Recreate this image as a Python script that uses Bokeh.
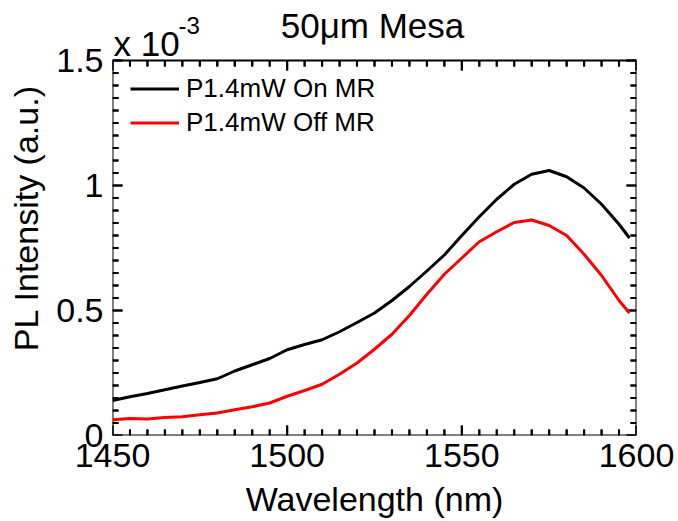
import math
from bokeh.plotting import figure
from bokeh.models import (Range1d, FixedTicker, NumeralTickFormatter, Legend, LegendItem)
from bokeh.core.properties import value
from bokeh.embed import file_html
from bokeh.resources import INLINE

# ---- data (PL intensity in units of 1e-3 a.u.) ----
wavelength = [1450, 1455, 1460, 1465, 1470, 1475, 1480, 1485, 1490, 1495, 1500,
              1505, 1510, 1515, 1520, 1525, 1530, 1535, 1540, 1545, 1550,
              1555, 1560, 1565, 1570, 1575, 1580, 1585, 1590, 1595, 1598]
on_mr = [0.140, 0.155, 0.168, 0.183, 0.198, 0.212, 0.227, 0.258, 0.283, 0.308, 0.343,
         0.364, 0.383, 0.415, 0.452, 0.490, 0.540, 0.596, 0.658, 0.722, 0.800,
         0.875, 0.945, 1.005, 1.045, 1.060, 1.035, 0.990, 0.925, 0.845, 0.790]
off_mr = [0.063, 0.068, 0.066, 0.072, 0.075, 0.083, 0.090, 0.103, 0.115, 0.130, 0.157,
          0.180, 0.205, 0.245, 0.290, 0.345, 0.405, 0.480, 0.565, 0.645, 0.710,
          0.775, 0.815, 0.852, 0.862, 0.840, 0.800, 0.725, 0.640, 0.540, 0.490]
series_labels = ["P1.4mW On MR", "P1.4mW Off MR"]
series_colors = ["#000000", "#ff0000"]
title_text = "50\u03bcm Mesa"
exp_base = "x 10"
exp_power = "-3"
x_label = "Wavelength (nm)"
y_label = "PL Intensity (a.u.)"
x_ticks = [1450, 1500, 1550, 1600]
y_ticks = [0, 0.5, 1, 1.5]

FONT = "Liberation Sans"
X0, X1 = x_ticks[0], x_ticks[-1]
Y0, Y1 = y_ticks[0], y_ticks[-1]

# layout constants (pixels)
W, H = 678, 521
LEFT, RIGHT, BOTTOM = 112, 42, 86
FRAME_H = H - BOTTOM              # frame runs up to the canvas top
BOX_TOP_PX = 60                   # axes box top, from canvas top
px_per_unit = (FRAME_H - BOX_TOP_PX) / (Y1 - Y0)
Y_TOP = Y0 + FRAME_H / px_per_unit
px_per_nm = (W - LEFT - RIGHT) / (X1 - X0)
MAJOR_LEN, MINOR_LEN = 10, 6
TICK_W = 2


def y_at(px_from_top):
    return Y0 + (FRAME_H - px_from_top) / px_per_unit


def x_at(px_from_left):
    return X0 + (px_from_left - LEFT) / px_per_nm


p = figure(width=W, height=H, output_backend="svg", toolbar_location=None,
           title=None, x_range=Range1d(X0, X1), y_range=Range1d(Y0, Y_TOP),
           min_border_left=LEFT, min_border_right=RIGHT, min_border_top=0,
           min_border_bottom=BOTTOM)
p.xgrid.visible = False
p.ygrid.visible = False
p.outline_line_color = None
p.background_fill_color = "white"
p.border_fill_color = "white"

for ax in (p.xaxis[0], p.yaxis[0]):
    ax.axis_line_color = None
    ax.major_tick_line_color = None
    ax.minor_tick_line_color = None
    ax.major_tick_in = 0
    ax.major_tick_out = 0
    ax.minor_tick_in = 0
    ax.minor_tick_out = 0
    ax.major_label_text_font = FONT
    ax.major_label_text_font_size = "34px"
    ax.major_label_text_color = "black"
    ax.axis_label_text_font = FONT
    ax.axis_label_text_font_size = "34px"
    ax.axis_label_text_font_style = "normal"
    ax.axis_label_text_color = "black"

xa = p.xaxis[0]
xa.ticker = FixedTicker(ticks=x_ticks)
xa.axis_label = x_label
xa.major_label_standoff = 8
xa.axis_label_standoff = 10

ya = p.yaxis[0]
ya.ticker = FixedTicker(ticks=y_ticks)
ya.formatter = NumeralTickFormatter(format="0.[0]")
ya.axis_label = y_label
ya.major_label_standoff = 9
ya.axis_label_standoff = 8

# axes box
p.quad(left=X0, right=X1, bottom=Y0, top=Y1, fill_alpha=0, line_color="black", line_width=2)

# inward tick marks: major at each tick, 10 minor intervals between
x_minor = []
for a, b in zip(x_ticks[:-1], x_ticks[1:]):
    x_minor += [a + (b - a) * k / 10 for k in range(1, 10)]
y_minor = []
for a, b in zip(y_ticks[:-1], y_ticks[1:]):
    y_minor += [a + (b - a) * k / 10 for k in range(1, 10)]

# drawn as small filled rectangles sized in screen pixels, plus matching segments
for xs, ln in ((x_ticks, MAJOR_LEN), (x_minor, MINOR_LEN)):
    n = len(xs)
    dy = ln / px_per_unit
    for y_edge, sign in ((Y0, 1), (Y1, -1)):
        p.rect(x=xs, y=[y_edge + sign * dy / 2] * n, width=TICK_W, height=ln,
               width_units="screen", height_units="screen",
               fill_color="black", line_color=None)
        p.segment(x0=xs, y0=[y_edge] * n, x1=xs, y1=[y_edge + sign * dy] * n,
                  line_color="black", line_width=TICK_W)
for ys, ln in ((y_ticks, MAJOR_LEN), (y_minor, MINOR_LEN)):
    n = len(ys)
    dx = ln / px_per_nm
    for x_edge, sign in ((X0, 1), (X1, -1)):
        p.rect(x=[x_edge + sign * dx / 2] * n, y=ys, width=ln, height=TICK_W,
               width_units="screen", height_units="screen",
               fill_color="black", line_color=None)
        p.segment(x0=[x_edge] * n, y0=ys, x1=[x_edge + sign * dx] * n, y1=ys,
                  line_color="black", line_width=TICK_W)

r1 = p.line(wavelength, on_mr, line_color=series_colors[0], line_width=3)
r2 = p.line(wavelength, off_mr, line_color=series_colors[1], line_width=3)

legend = Legend(items=[LegendItem(label=series_labels[0], renderers=[r1]),
                       LegendItem(label=series_labels[1], renderers=[r2])],
                location=(18, 297), glyph_width=49, glyph_height=31, label_height=31,
                spacing=3, padding=0, margin=0, label_standoff=7,
                label_text_font=FONT, label_text_font_size="26px",
                label_text_color="black",
                border_line_color=None, background_fill_alpha=0)
p.add_layout(legend)

# title and axis exponent, in the strip above the axes box
p.text(x=[x_at(372)], y=[y_at(25)], text=[title_text], text_font=value(FONT),
       text_font_size="35px", text_align="center", text_baseline="alphabetic",
       text_color="black")
p.text(x=[x_at(113)], y=[y_at(43)], text=[exp_base], text_font=value(FONT),
       text_font_size="35px", text_align="left", text_baseline="alphabetic",
       text_color="black")
p.text(x=[x_at(178)], y=[y_at(25)], text=[exp_power], text_font=value(FONT),
       text_font_size="24px", text_align="left", text_baseline="alphabetic",
       text_color="black")

open("out.html", "w").write(file_html(p, INLINE))
